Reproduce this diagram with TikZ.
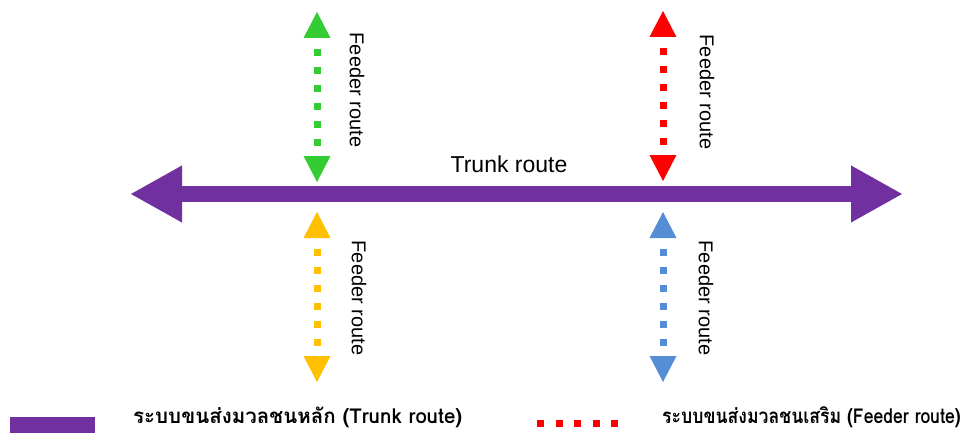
\documentclass[tikz,border=0pt]{standalone}
\usepackage{fontspec}
\setmainfont{Liberation Sans}
\newfontfamily\thaifont[Script=Thai]{Loma}
\usetikzlibrary{arrows.meta}
\definecolor{trunkpurple}{HTML}{7030A0}
\definecolor{fgreen}{HTML}{33CC33}
\definecolor{fred}{HTML}{FF0000}
\definecolor{fyellow}{HTML}{FFC000}
\definecolor{fblue}{HTML}{558ED5}
\tikzset{
  trunk/.style={draw=trunkpurple, line width=16pt,
    arrows={Triangle[length=52pt,width=53pt,fill=trunkpurple]-Triangle[length=52pt,width=53pt,fill=trunkpurple]}},
  feeder/.style={draw=#1, line width=7pt, dash pattern=on 7pt off 11pt,
    shorten <=37pt, shorten >=35pt},
  flabel/.style={rotate=-90, font=\fontsize{20}{23}\selectfont, inner sep=0pt},
  legtext/.style={anchor=west, inner sep=0pt, font=\thaifont\bfseries\fontsize{20.5}{24}\selectfont}
}
\newcommand{\uphead}[2]{\fill[#1] (#2) -- ++(-13.5,26) -- ++(27,0) -- cycle;}
\newcommand{\downhead}[2]{\fill[#1] (#2) -- ++(-13.5,-26) -- ++(27,0) -- cycle;}
\begin{document}
\begin{tikzpicture}[x=1pt,y=-1pt]
\useasboundingbox (0,0) rectangle (968,433);
% trunk
\coordinate (tl) at (130,194);
\coordinate (tr) at (903,194);
\draw[trunk] (tl) -- (tr);
\node[inner sep=0pt, font=\fontsize{23}{26}\selectfont] (tlab) at (509,164) {Trunk route};
% feeders
\coordinate (g1) at (317,12);  \coordinate (g2) at (317,182);
\coordinate (r1) at (663,11);  \coordinate (r2) at (663,181);
\coordinate (y1) at (317,212); \coordinate (y2) at (317,382);
\coordinate (b1) at (663,212); \coordinate (b2) at (663,382);
\draw[feeder=fgreen] (g1) -- (g2);
\draw[feeder=fred] (r1) -- (r2);
\draw[feeder=fyellow] (y1) -- (y2);
\draw[feeder=fblue] (b1) -- (b2);
\uphead{fgreen}{g1} \downhead{fgreen}{g2}
\uphead{fred}{r1} \downhead{fred}{r2}
\uphead{fyellow}{y1} \downhead{fyellow}{y2}
\uphead{fblue}{b1} \downhead{fblue}{b2}
\node[flabel] (gl) at (357,90) {Feeder route};
\node[flabel] (rl) at (707,92) {Feeder route};
\node[flabel] (yl) at (359,298) {Feeder route};
\node[flabel] (bl) at (706,298) {Feeder route};
% legend
\fill[trunkpurple] (10,417) rectangle (95,433);
\coordinate (ls1) at (537,423.5);
\coordinate (ls2) at (618,423.5);
\draw[fred, line width=7pt, dash pattern=on 7pt off 11.5pt] (ls1) -- (ls2);
\node[legtext] (l1) at (133,417) {ระบบขนส่งมวลชนหลัก (Trunk route)};
\node[legtext] (l2) at (662,417) {\scalebox{0.86}[1]{ระบบขนส่งมวลชนเสริม (Feeder route)}};
\end{tikzpicture}
\end{document}
